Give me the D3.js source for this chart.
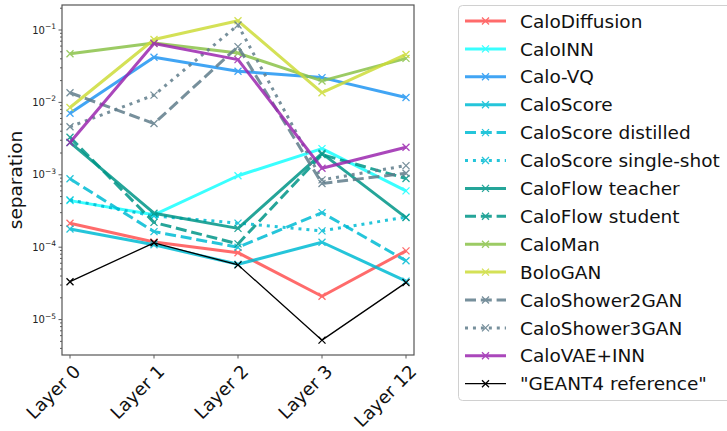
<!DOCTYPE html>
<html>
<head>
<meta charset="utf-8">
<script src="https://cdn.jsdelivr.net/npm/d3@7"></script>
<style>
  html, body { margin: 0; padding: 0; background: #fff; }
  svg { display: block; font-family: "DejaVu Sans", sans-serif; }
</style>
</head>
<body>
<svg id="chart" width="727" height="431"></svg>
<script>
// Layers on the x axis
const layers = ["Layer 0", "Layer 1", "Layer 2", "Layer 3", "Layer 12"];

// Separation power per layer for each generative model
const caloDiffusion       = [2.14e-4, 1.18e-4, 8.4e-5, 2.1e-5, 8.9e-5];
const caloINN             = [4.4e-4, 2.8e-4, 9.7e-4, 2.3e-3, 6.0e-4];
const caloVQ              = [7.1e-3, 4.2e-2, 2.7e-2, 2.2e-2, 1.17e-2];
const caloScore           = [1.78e-4, 1.08e-4, 5.8e-5, 1.17e-4, 3.4e-5];
const caloScoreDistilled  = [8.8e-4, 1.64e-4, 1.0e-4, 3.0e-4, 6.5e-5];
const caloScoreSingleShot = [4.5e-4, 2.7e-4, 2.15e-4, 1.68e-4, 2.6e-4];
const caloFlowTeacher     = [2.8e-3, 2.95e-4, 1.82e-4, 1.98e-3, 2.56e-4];
const caloFlowStudent     = [3.3e-3, 2.2e-4, 1.11e-4, 1.9e-3, 8.9e-4];
const caloMan             = [4.7e-2, 6.6e-2, 4.8e-2, 1.98e-2, 4.06e-2];
const boloGAN             = [8.5e-3, 7.4e-2, 1.34e-1, 1.36e-2, 4.6e-2];
const caloShower2GAN      = [1.36e-2, 5.1e-3, 5.9e-2, 7.6e-4, 1.05e-3];
const caloShower3GAN      = [4.6e-3, 1.26e-2, 1.17e-1, 8.5e-4, 1.34e-3];
const caloVAEINN          = [2.8e-3, 6.5e-2, 3.9e-2, 1.23e-3, 2.4e-3];
const geant4Reference     = [3.34e-5, 1.15e-4, 5.7e-5, 5.2e-6, 3.24e-5];

// Legend names
const seriesNames = ["CaloDiffusion", "CaloINN", "Calo-VQ", "CaloScore", "CaloScore distilled",
  "CaloScore single-shot", "CaloFlow teacher", "CaloFlow student", "CaloMan", "BoloGAN",
  "CaloShower2GAN", "CaloShower3GAN", "CaloVAE+INN", "\"GEANT4 reference\""];

// y-axis decade ticks
const yTickExponents = [-5, -4, -3, -2, -1];

const seriesValues = [caloDiffusion, caloINN, caloVQ, caloScore, caloScoreDistilled,
  caloScoreSingleShot, caloFlowTeacher, caloFlowStudent, caloMan, boloGAN,
  caloShower2GAN, caloShower3GAN, caloVAEINN, geant4Reference];

const colors = ["#ff5252", "#18ffff", "#2196f3", "#00bcd4", "#00bcd4", "#00bcd4",
  "#009688", "#009688", "#8bc34a", "#cddc39", "#607d8b", "#607d8b", "#9c27b0", "#000000"];
const styles = ["solid", "solid", "solid", "solid", "dashed", "dotted", "solid", "dashed",
  "solid", "solid", "dashed", "dotted", "solid", "thin"];

const series = seriesNames.map((name, i) => ({
  name, values: seriesValues[i], color: colors[i], style: styles[i]
}));

const svg = d3.select("#chart");
const plot = { left: 62, right: 414, top: 5, bottom: 355 };

const x = d3.scalePoint().domain(layers).range([70, 406]);
const y = d3.scaleLog().domain([3.243e-6, 0.2215]).range([plot.bottom, plot.top]);

function dashFor(style) {
  if (style === "dashed") return "11,4.8";
  if (style === "dotted") return "3,4.95";
  return null;
}
function widthFor(style) { return style === "thin" ? 1.3 : 3; }

// Axes frame background
svg.append("rect")
  .attr("x", plot.left).attr("y", plot.top)
  .attr("width", plot.right - plot.left).attr("height", plot.bottom - plot.top)
  .attr("fill", "#fff");

// Clip for the data lines
svg.append("clipPath").attr("id", "clip")
  .append("rect")
  .attr("x", plot.left).attr("y", plot.top)
  .attr("width", plot.right - plot.left).attr("height", plot.bottom - plot.top);

const line = d3.line().x((d, i) => x(layers[i])).y(d => y(d));

const gData = svg.append("g").attr("clip-path", "url(#clip)");

function drawX(g, cx, cy, size, color, sw) {
  g.append("path")
    .attr("d", `M${cx - size},${cy - size}L${cx + size},${cy + size}M${cx - size},${cy + size}L${cx + size},${cy - size}`)
    .attr("stroke", color).attr("stroke-width", sw).attr("fill", "none");
}

series.forEach(s => {
  const g = gData.append("g").attr("opacity", s.style === "thin" ? 1 : 0.85);
  g.append("path")
    .datum(s.values)
    .attr("d", line)
    .attr("fill", "none")
    .attr("stroke", s.color)
    .attr("stroke-width", widthFor(s.style))
    .attr("stroke-dasharray", dashFor(s.style))
    .attr("stroke-linejoin", "round");
  s.values.forEach((v, i) => {
    drawX(g, x(layers[i]), y(v), 3.5, s.color, 1.3);
  });
});

// Y axis: major decades and minor ticks
const gy = svg.append("g").attr("transform", `translate(${plot.left},0)`);
const minorTicks = [];
for (let e = -6; e <= 0; e++) {
  for (let m = 2; m <= 9; m++) {
    const v = m * Math.pow(10, e);
    if (v >= y.domain()[0] && v <= y.domain()[1]) minorTicks.push(v);
  }
}
gy.selectAll("line.minor").data(minorTicks).join("line")
  .attr("class", "minor")
  .attr("x1", -2).attr("x2", 0)
  .attr("y1", d => y(d)).attr("y2", d => y(d))
  .attr("stroke", "#333").attr("stroke-width", 0.8);
gy.selectAll("line.major").data(yTickExponents).join("line")
  .attr("class", "major")
  .attr("x1", -3.5).attr("x2", 0)
  .attr("y1", d => y(Math.pow(10, d))).attr("y2", d => y(Math.pow(10, d)))
  .attr("stroke", "#333").attr("stroke-width", 0.8);
const yLabels = gy.selectAll("text.ylab").data(yTickExponents).join("text")
  .attr("class", "ylab")
  .attr("x", -6).attr("y", d => y(Math.pow(10, d)) + 3.5)
  .attr("text-anchor", "end")
  .attr("font-size", 10)
  .attr("fill", "#222");
yLabels.append("tspan").text("10");
yLabels.append("tspan").attr("dy", -4.5).attr("font-size", 7.5).text(d => "\u2212" + Math.abs(d));

// X axis ticks and rotated labels
const gx = svg.append("g");
gx.selectAll("line").data(layers).join("line")
  .attr("x1", d => x(d)).attr("x2", d => x(d))
  .attr("y1", plot.bottom).attr("y2", plot.bottom + 3.5)
  .attr("stroke", "#333").attr("stroke-width", 0.8);
gx.selectAll("text").data(layers).join("text")
  .attr("transform", d => `translate(${x(d) + 2},${plot.bottom + 8}) rotate(-45)`)
  .attr("text-anchor", "end")
  .attr("dy", "0.75em")
  .attr("font-size", 18)
  .attr("fill", "#111")
  .text(d => d);

// Y axis title
svg.append("text")
  .attr("transform", `translate(22,180) rotate(-90)`)
  .attr("text-anchor", "middle")
  .attr("font-size", 18.5)
  .attr("fill", "#111")
  .text("separation");

// Axes spines
svg.append("rect")
  .attr("x", plot.left).attr("y", plot.top)
  .attr("width", plot.right - plot.left).attr("height", plot.bottom - plot.top)
  .attr("fill", "none").attr("stroke", "#555").attr("stroke-width", 1.2);

// Legend
const legend = svg.append("g");
legend.append("rect")
  .attr("x", 458.5).attr("y", 5.5).attr("width", 290).attr("height", 395)
  .attr("rx", 4).attr("fill", "#fff").attr("stroke", "#d0d0d0").attr("stroke-width", 1);
series.forEach((s, i) => {
  const cy = 21 + i * 27.9;
  const g = legend.append("g").attr("opacity", s.style === "thin" ? 1 : 0.85);
  g.append("line")
    .attr("x1", 465).attr("x2", 506).attr("y1", cy).attr("y2", cy)
    .attr("stroke", s.color)
    .attr("stroke-width", widthFor(s.style))
    .attr("stroke-dasharray", dashFor(s.style));
  drawX(g, 485.5, cy, 3.5, s.color, 1.3);
  legend.append("text")
    .attr("x", 520).attr("y", cy)
    .attr("dy", "0.36em")
    .attr("font-size", 18.5)
    .attr("fill", "#111")
    .text(s.name);
});
</script>
</body>
</html>
